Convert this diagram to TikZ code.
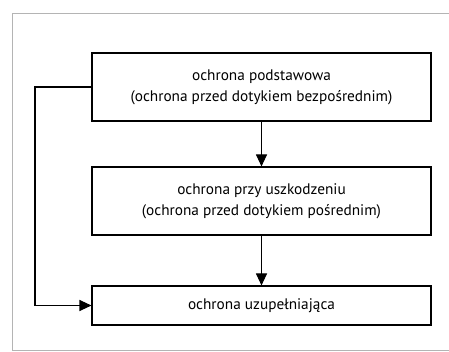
\documentclass[tikz,border=0pt]{standalone}
\usepackage{fontspec}
\setmainfont{PT Sans}
\usepackage{xcolor}
\definecolor{framegray}{HTML}{B4B4B4}
\usepackage{tikz}
\usetikzlibrary{arrows.meta, positioning}

\tikzset{
  level/.style={draw, line width=1.1pt, minimum width=339pt, align=center,
    font=\fontsize{15.3}{21}\selectfont, inner sep=0pt},
  arr/.style={line width=1.1pt, -{Triangle[length=12pt, width=11pt]}}
}

\begin{document}
\begin{tikzpicture}[x=1pt, y=1pt]
  \useasboundingbox (0,0) rectangle (449,352);
  % --- frame ---
  \draw[framegray, line width=0.8pt] (460,339) -- (12,339) -- (12,2) -- (460,2);

  % --- levels ---
  \node[level, minimum height=68pt] (b1) at (261.5,265)
    {ochrona podstawowa\\(ochrona przed dotykiem bezpośrednim)};
  \node[level, minimum height=68pt] (b2) at (261.5,151)
    {ochrona przy uszkodzeniu\\(ochrona przed dotykiem pośrednim)};
  \node[level, minimum height=39pt] (b3) at (261.5,46.5)
    {ochrona uzupełniająca};

  % --- arrows ---
  \coordinate (bend) at (35,0);
  \draw[arr] (b1) -- (b2);
  \draw[arr] (b2) -- (b3);
  \draw[arr] (b1.west) -- (b1.west -| bend) |- (b3.west);
\end{tikzpicture}
\end{document}
